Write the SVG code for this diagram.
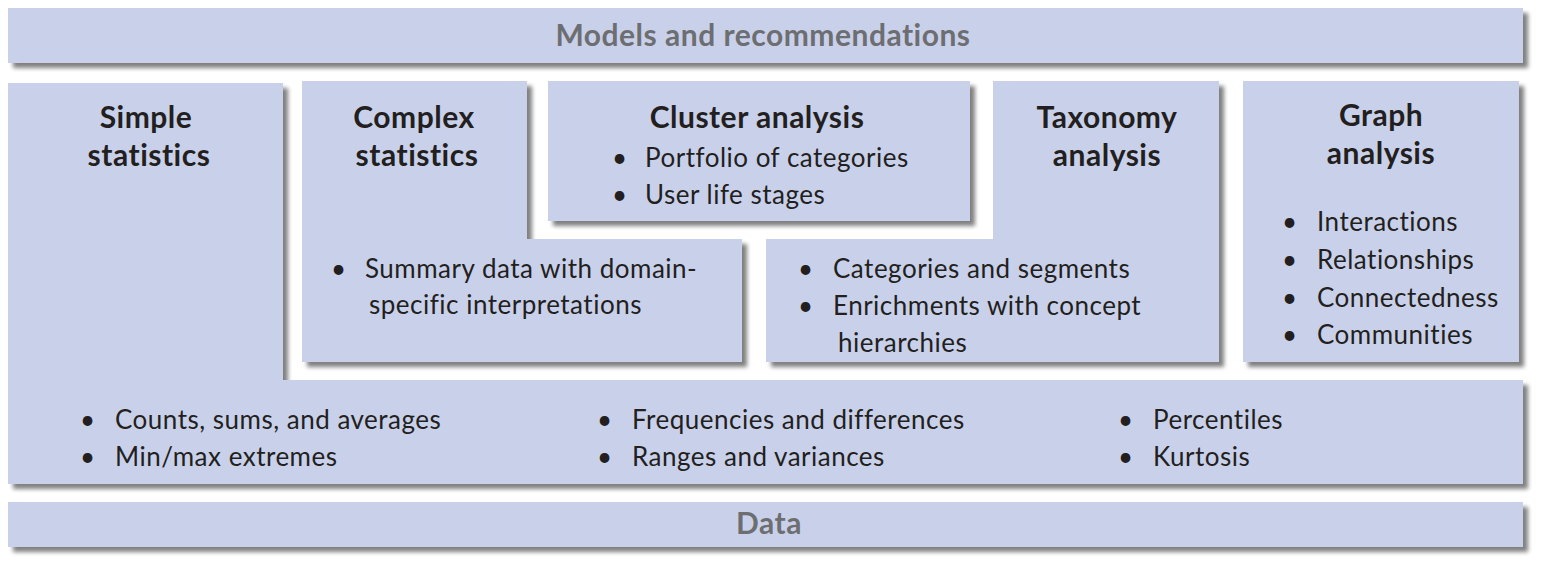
<svg xmlns="http://www.w3.org/2000/svg" width="1549" height="573" viewBox="0 0 1549 573">
<style>
.box{fill:#C9D1EA;filter:url(#sh)}
.t{font-family:Lato,"Open Sans",sans-serif;fill:#231F20}
.h{font-size:30px;font-weight:bold;text-anchor:middle;letter-spacing:0.5px}
.g{font-size:30px;font-weight:bold;text-anchor:middle;fill:#6D6E71;letter-spacing:0.5px}
.b{font-size:26px;letter-spacing:0.5px}
</style>
<defs>
<filter id="sh" x="-5%" y="-5%" width="112%" height="130%">
<feGaussianBlur in="SourceAlpha" stdDeviation="2.2"/>
<feOffset dx="5" dy="5" result="o"/>
<feComponentTransfer><feFuncA type="linear" slope="0.5"/></feComponentTransfer>
<feMerge><feMergeNode/><feMergeNode in="SourceGraphic"/></feMerge>
</filter>
</defs>
<rect width="1549" height="573" fill="#fff"/>
<g id="models">
<rect class="box" x="8" y="8" width="1515" height="55"/>
<text class="t g" x="763" y="46">Models and recommendations</text>
</g>
<g id="simple">
<polygon class="box" points="8,83 283,83 283,380 1523,380 1523,484 8,484"/>
<text class="t h" x="146" y="128">Simple</text>
<text class="t h" x="149" y="166">statistics</text>
<text class="t b" x="80" y="429">•</text><text class="t b" x="115" y="429">Counts, sums, and averages</text>
<text class="t b" x="80" y="466">•</text><text class="t b" x="115" y="466">Min/max extremes</text>
<text class="t b" x="597" y="429">•</text><text class="t b" x="632" y="429">Frequencies and differences</text>
<text class="t b" x="597" y="466">•</text><text class="t b" x="632" y="466">Ranges and variances</text>
<text class="t b" x="1118" y="429">•</text><text class="t b" x="1153" y="429">Percentiles</text>
<text class="t b" x="1118" y="466">•</text><text class="t b" x="1153" y="466">Kurtosis</text>
</g>
<g id="complex">
<polygon class="box" points="302,81 527,81 527,239 742,239 742,362 302,362"/>
<text class="t h" x="414" y="128">Complex</text>
<text class="t h" x="417" y="166">statistics</text>
<text class="t b" x="331" y="278">•</text><text class="t b" x="365" y="278">Summary data with domain-</text>
<text class="t b" x="369" y="314">specific interpretations</text>
</g>
<g id="cluster">
<rect class="box" x="548" y="81" width="422" height="140"/>
<text class="t h" x="757" y="128">Cluster analysis</text>
<text class="t b" x="612" y="167">•</text><text class="t b" x="645" y="167">Portfolio of categories</text>
<text class="t b" x="612" y="204">•</text><text class="t b" x="645" y="204">User life stages</text>
</g>
<g id="taxonomy">
<polygon class="box" points="993,81 1219,81 1219,362 766,362 766,239 993,239"/>
<text class="t h" x="1107" y="128">Taxonomy</text>
<text class="t h" x="1107" y="166">analysis</text>
<text class="t b" x="798" y="278">•</text><text class="t b" x="833" y="278">Categories and segments</text>
<text class="t b" x="798" y="315">•</text><text class="t b" x="833" y="315">Enrichments with concept</text>
<text class="t b" x="838" y="352">hierarchies</text>
</g>
<g id="graph">
<rect class="box" x="1243" y="81" width="276" height="281"/>
<text class="t h" x="1381" y="126">Graph</text>
<text class="t h" x="1381" y="164">analysis</text>
<text class="t b" x="1282" y="231">•</text><text class="t b" x="1317" y="231">Interactions</text>
<text class="t b" x="1282" y="269">•</text><text class="t b" x="1317" y="269">Relationships</text>
<text class="t b" x="1282" y="307">•</text><text class="t b" x="1317" y="307">Connectedness</text>
<text class="t b" x="1282" y="344">•</text><text class="t b" x="1317" y="344">Communities</text>
</g>
<g id="data">
<rect class="box" x="8" y="502" width="1515" height="45"/>
<text class="t g" x="769" y="534">Data</text>
</g>
<g id="connectors"/>
</svg>
